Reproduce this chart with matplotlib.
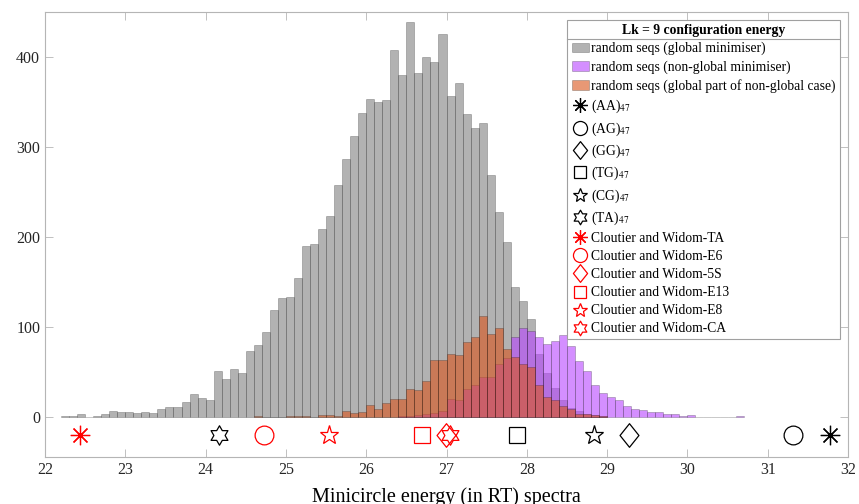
import numpy as np
import matplotlib
matplotlib.use("Agg")
import matplotlib.pyplot as plt
from matplotlib.path import Path
from matplotlib.lines import Line2D

plt.rcParams['font.family'] = ['Liberation Serif', 'DejaVu Serif']
plt.rcParams['mathtext.fontset'] = 'stix'

# histogram counts, bin width 0.1
bin_width = 0.1
glob_start = 22.2
glob_counts = [1, 1, 3, 0, 1, 3, 6, 5, 5, 4, 5, 4, 8, 11, 11, 16, 25, 21, 18,
               51, 42, 53, 49, 73, 80, 94, 119, 132, 133, 154, 190, 192, 209,
               223, 257, 286, 312, 337, 353, 350, 352, 407, 379, 438, 382, 400,
               394, 425, 356, 371, 336, 321, 326, 268, 227, 194, 144, 129, 108,
               70, 49, 32, 18, 10, 6, 3, 2, 1]
nonglob_start = 26.4
nonglob_counts = [1, 1, 2, 3, 4, 6, 20, 19, 31, 35, 44, 44, 58, 65, 88, 98, 95,
                  88, 81, 84, 91, 78, 62, 51, 35, 26, 22, 19, 12, 8, 7, 5, 5, 3,
                  3, 1, 2, 0, 0, 0, 0, 0, 1]
part_start = 24.6
part_counts = [1, 0, 0, 0, 1, 1, 1, 0, 2, 2, 1, 6, 4, 5, 13, 8, 15, 20, 20, 31,
               30, 40, 63, 63, 70, 68, 83, 89, 112, 92, 99, 75, 66, 59, 55, 35,
               22, 19, 12, 8, 3, 3, 2, 1]

# single sequences (energy values)
black_labels = ['(AA)$_{47}$', '(AG)$_{47}$', '(GG)$_{47}$', '(TG)$_{47}$',
                '(CG)$_{47}$', '(TA)$_{47}$']
black_energy = [31.77, 31.31, 29.27, 27.88, 28.84, 24.17]
red_labels = ['Cloutier and Widom-TA', 'Cloutier and Widom-E6',
              'Cloutier and Widom-5S', 'Cloutier and Widom-E13',
              'Cloutier and Widom-E8', 'Cloutier and Widom-CA']
red_energy = [22.44, 24.73, 26.99, 26.70, 25.54, 27.04]
marker_y = -20


def hexagram():
    ang = np.pi / 2 + np.arange(12) * np.pi / 6
    r = np.where(np.arange(12) % 2 == 0, 1.0, 1 / np.sqrt(3))
    v = np.column_stack([r * np.cos(ang), r * np.sin(ang)])
    v = np.vstack([v, v[:1]])
    return Path(v, closed=True)


diamond = Path([(0, 1), (0.8, 0), (0, -1), (-0.8, 0), (0, 1)], closed=True)
# marker, size
shapes = [((8, 2, 0), 14), ('o', 13.5), (diamond, 17), ('s', 11),
          ('*', 14), (hexagram(), 14)]

fig = plt.figure(figsize=(8.59, 5.04), dpi=100)
ax = fig.add_axes([0.0524, 0.093, 0.9348, 0.884])

edge = (0, 0, 0, 0.25)


def draw_hist(start, counts, color, label):
    left = start + bin_width * np.arange(len(counts))
    return ax.bar(left, counts, width=bin_width, align='edge',
                  color=color + (0.6,), edgecolor=edge, linewidth=0.6,
                  label=label)


h1 = draw_hist(glob_start, glob_counts, (0.5, 0.5, 0.5),
               'random seqs (global minimiser)')
h2 = draw_hist(nonglob_start, nonglob_counts, (0.72, 0.27, 1.0),
               'random seqs (non-global minimiser)')
h3 = draw_hist(part_start, part_counts, (0.85, 0.33, 0.1),
               'random seqs (global part of non-global case)')

handles = [h1, h2, h3]
for lab, e, (m, s) in zip(black_labels, black_energy, shapes):
    ln, = ax.plot([e], [marker_y], linestyle='none', marker=m, markersize=s,
                  markerfacecolor='none', markeredgecolor='k',
                  markeredgewidth=0.9, label=lab)
    handles.append(ln)
for lab, e, (m, s) in zip(red_labels, red_energy, shapes):
    ln, = ax.plot([e], [marker_y], linestyle='none', marker=m, markersize=s,
                  markerfacecolor='none', markeredgecolor='r',
                  markeredgewidth=0.9, label=lab)
    handles.append(ln)

ax.set_xlim(22, 32)
ax.set_ylim(-45, 450)
ax.set_xticks(np.arange(22, 33, 1))
ax.set_yticks([0, 100, 200, 300, 400])
ax.tick_params(direction='in', top=True, right=True, length=5.5,
               width=0.6, color='#b5b5b5', labelsize=11.5, labelcolor='#262626')
for sp in ax.spines.values():
    sp.set_color('#b5b5b5')
    sp.set_linewidth(0.8)
ax.set_xlabel('Minicircle energy (in RT) spectra', fontsize=14.5, labelpad=7)

leg = ax.legend(handles=handles, loc='upper right', fontsize=9.8,
                title='Lk = 9 configuration energy',
                title_fontproperties={'weight': 'bold', 'size': 9.8},
                fancybox=False, framealpha=1, edgecolor='#a0a0a0',
                markerscale=0.75, handlelength=1.3, handletextpad=0.15,
                labelspacing=0.37, borderpad=0.3, borderaxespad=0.6)
leg.get_frame().set_linewidth(0.8)

# separator line under the legend title
fig.canvas.draw()
r = fig.canvas.get_renderer()
lb = leg.get_window_extent(r)
tb = leg.get_title().get_window_extent(r)
yline = tb.y0 - 2
inv = fig.transFigure.inverted()
(x0, y0), (x1, y1) = inv.transform([(lb.x0, yline), (lb.x1, yline)])
fig.add_artist(Line2D([x0, x1], [y0, y1], transform=fig.transFigure,
                      color='#a0a0a0', linewidth=0.8))

fig.savefig('out.png', dpi=100)
